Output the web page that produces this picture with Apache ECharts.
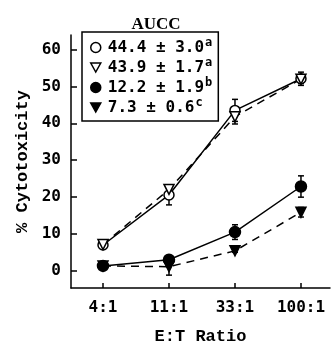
<!DOCTYPE html>
<html>
<head>
<meta charset="utf-8">
<script src="https://cdn.jsdelivr.net/npm/echarts@6/dist/echarts.min.js"></script>
<style>
  html, body { margin: 0; padding: 0; background: #fff; }
  #chart { width: 331px; height: 350px; }
</style>
</head>
<body>
<div id="chart"></div>
<script>
// E:T ratio categories and tick labels
const categories = ['4:1', '11:1', '33:1', '100:1']
const yTicks = [0, 10, 20, 30, 40, 50, 60]

// legend texts (AUCC) and their superscripts
const aucc = ['44.4 ± 3.0', '43.9 ± 1.7', '12.2 ± 1.9', '7.3 ± 0.6']
const aucSup = ['a', 'a', 'b', 'c']

// % cytotoxicity
const openCircle = [6.9, 20.5, 43.5, 52.1]
const openCircleErr = [0.4, 2.7, 3.0, 1.8]
const openTri = [7.0, 22.0, 41.8, 52.0]
const openTriErr = [0.4, 1.2, 2.0, 1.2]
const fillCircle = [1.2, 2.9, 10.4, 22.8]
const fillCircleErr = [0.4, 0.6, 2.0, 2.9]
const fillTri = [1.2, 1.0, 5.3, 15.8]
const fillTriErr = [0.3, 2.3, 0.4, 1.3]

const mono = 'DejaVu Sans Mono'
const downTri = 'path://M0,0L10,0L5,9Z'

const defs = [
  { vals: openCircle, err: openCircleErr, symbol: 'circle', fill: '#fff', size: 10 },
  { vals: openTri, err: openTriErr, symbol: downTri, fill: '#fff', size: 10, dashed: true },
  { vals: fillCircle, err: fillCircleErr, symbol: 'circle', fill: '#000', size: 11 },
  { vals: fillTri, err: fillTriErr, symbol: downTri, fill: '#000', size: 10, dashed: true },
]

const lineSeries = defs.map((d, i) => ({
  name: aucc[i], type: 'line', z: 3,
  data: d.vals.map((v, j) => [j, v]),
  symbol: d.symbol, symbolSize: d.size, showSymbol: true,
  itemStyle: { color: d.fill, borderColor: '#000', borderWidth: 1.5 },
  lineStyle: { color: '#000', width: 1.5, type: d.dashed ? [8, 6] : 'solid' },
  animation: false,
}))

const errSeries = defs.map((d) => ({
  type: 'custom', z: 2, silent: true,
  data: d.vals.map((v, j) => [j, v - d.err[j], v + d.err[j]]),
  renderItem (params, api) {
    const lo = api.coord([api.value(0), api.value(1)])
    const hi = api.coord([api.value(0), api.value(2)])
    const w = 3
    const st = { stroke: '#000', lineWidth: 1.5 }
    return { type: 'group', children: [
      { type: 'line', shape: { x1: lo[0], y1: lo[1], x2: hi[0], y2: hi[1] }, style: st },
      { type: 'line', shape: { x1: lo[0] - w, y1: lo[1], x2: lo[0] + w, y2: lo[1] }, style: st },
      { type: 'line', shape: { x1: hi[0] - w, y1: hi[1], x2: hi[0] + w, y2: hi[1] }, style: st },
    ] }
  },
  animation: false,
}))

const chart = echarts.init(document.getElementById('chart'), null, { renderer: 'canvas' })
chart.setOption({
  animation: false,
  textStyle: { fontFamily: mono, color: '#000' },
  title: {
    text: 'AUCC', left: 151, top: 11, textAlign: 'center',
    textStyle: { fontFamily: 'Liberation Serif', fontWeight: 'bold', fontSize: 17, color: '#000' },
  },
  legend: {
    orient: 'vertical', left: 82, top: 32,
    padding: [5, 6, 4, 8], itemGap: 0, itemWidth: 10, itemHeight: 10,
    borderColor: '#000', borderWidth: 1.5,
    data: defs.map((d, i) => ({
      name: aucc[i], icon: d.symbol,
      itemStyle: { color: d.fill, borderColor: '#000', borderWidth: 1.5 },
    })),
    formatter: (name) => '{t|' + name + '}{sup|' + aucSup[aucc.indexOf(name)] + '}',
    textStyle: {
      fontFamily: mono, fontWeight: 'bold', fontSize: 16, color: '#000', lineHeight: 19,
      rich: {
        t: { fontFamily: mono, fontWeight: 'bold', fontSize: 16, color: '#000', padding: [0, 0, 0, 2] },
        sup: { fontFamily: mono, fontWeight: 'bold', fontSize: 12, padding: [0, 0, 9, 1], color: '#000' },
      },
    },
  },
  grid: { left: 71, right: 1, top: 35, bottom: 57 },
  xAxis: {
    type: 'value', min: -0.485, max: 3.44,
    name: 'E:T Ratio', nameLocation: 'middle', nameGap: 40,
    nameTextStyle: { fontFamily: 'Liberation Mono', fontWeight: 'bold', fontSize: 17, color: '#000' },
    splitLine: { show: false },
    axisLine: { onZero: false, lineStyle: { color: '#000', width: 1.5 } },
    axisTick: { inside: true, length: 5, customValues: [0, 1, 2, 3], lineStyle: { color: '#000', width: 1.5 } },
    axisLabel: {
      customValues: [0, 1, 2, 3], margin: 12,
      formatter: (v) => categories[Math.round(v)],
      fontFamily: mono, fontWeight: 'bold', fontSize: 16, color: '#000',
    },
  },
  yAxis: {
    type: 'value', min: -4.8, max: 64,
    name: '% Cytotoxicity', nameLocation: 'middle', nameGap: 40, nameRotate: 90,
    nameTextStyle: { fontFamily: 'Liberation Mono', fontWeight: 'bold', fontSize: 17, color: '#000' },
    splitLine: { show: false },
    axisLine: { show: true, onZero: false, lineStyle: { color: '#000', width: 1.5 } },
    axisTick: { show: true, inside: true, length: 6, customValues: yTicks, lineStyle: { color: '#000', width: 1.5 } },
    axisLabel: {
      customValues: yTicks, margin: 10,
      fontFamily: mono, fontWeight: 'bold', fontSize: 16, color: '#000',
    },
  },
  series: [...errSeries, ...lineSeries],
})
</script>
</body>
</html>
